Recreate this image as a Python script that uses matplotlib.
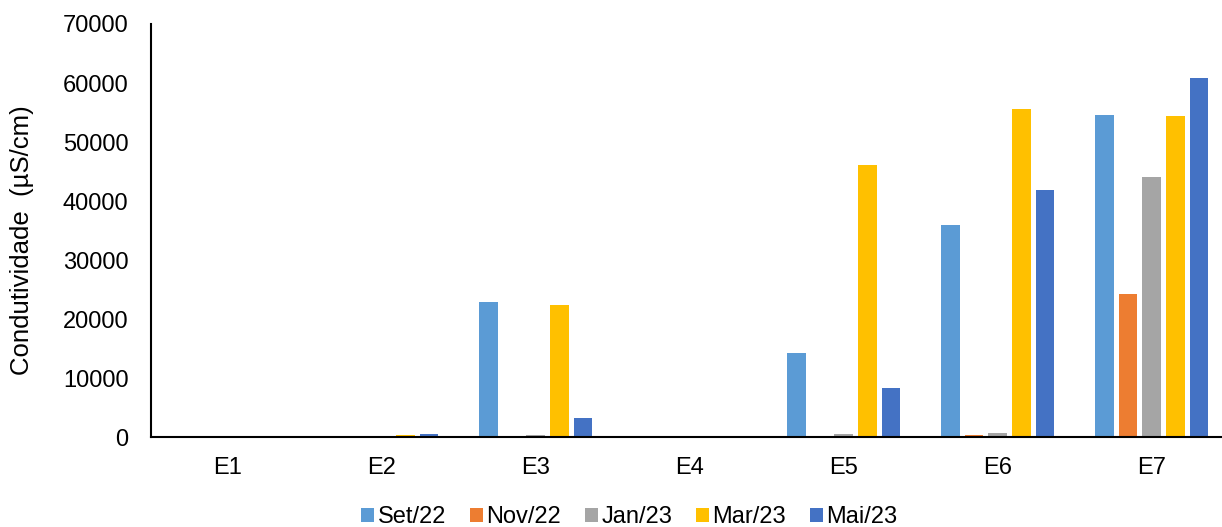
import matplotlib.pyplot as plt
import numpy as np

plt.rcParams['font.family'] = ['Liberation Sans', 'DejaVu Sans']

estacoes = ['E1', 'E2', 'E3', 'E4', 'E5', 'E6', 'E7']
campanhas = ['Set/22', 'Nov/22', 'Jan/23', 'Mar/23', 'Mai/23']
cores = ['#5B9BD5', '#ED7D31', '#A5A5A5', '#FFC000', '#4472C4']

# condutividade em uS/cm por campanha
set22 = [50, 250, 22900, 30, 14300, 36000, 54600]
nov22 = [40, 150, 150, 30, 150, 400, 24200]
jan23 = [50, 200, 400, 100, 500, 800, 44000]
mar23 = [60, 350, 22400, 150, 46200, 55600, 54500]
mai23 = [70, 500, 3300, 100, 8400, 41900, 60900]
series = [set22, nov22, jan23, mar23, mai23]

fig = plt.figure(figsize=(12.22, 5.27), dpi=100)
ax = fig.add_axes([0.1233, 0.1702, 0.8822, 0.7843])

x = np.arange(len(estacoes))
passo = 0.154
largura = 0.121
for i, (valores, nome, cor) in enumerate(zip(series, campanhas, cores)):
    ax.bar(x + (i - 2) * passo, valores, largura, color=cor, label=nome)

ax.set_xlim(-0.5, len(estacoes) - 0.5)
ax.set_ylim(0, 70000)
ax.set_yticks(np.arange(0, 70001, 10000))
ax.set_xticks(x)
ax.set_xticklabels(estacoes)
ax.tick_params(axis='both', length=0, labelsize=17)
ax.tick_params(axis='y', pad=16)
ax.tick_params(axis='x', pad=14)

for lado in ['top', 'right']:
    ax.spines[lado].set_visible(False)
for lado in ['left', 'bottom']:
    ax.spines[lado].set_linewidth(1.5)
    ax.spines[lado].set_color('black')

ax.set_ylabel('Condutividade  (µS/cm)', fontsize=18.5)
ax.yaxis.set_label_coords(-0.108, 0.478)

ax.legend(loc='center', bbox_to_anchor=(0.444, -0.194), ncol=5,
          frameon=False, fontsize=17, handlelength=0.55, handleheight=0.55,
          handletextpad=0.15, columnspacing=1.0, borderaxespad=0)

fig.savefig('out.png', dpi=100)
